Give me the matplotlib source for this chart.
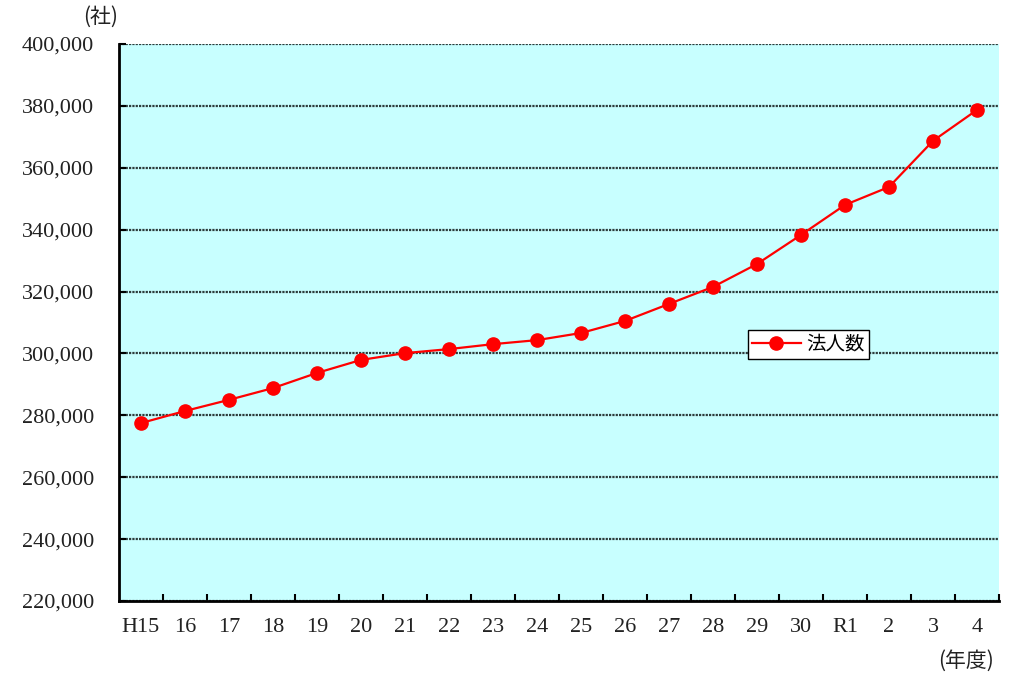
import matplotlib.pyplot as plt
from matplotlib.ticker import FuncFormatter, FixedLocator

# データ
nendo = ["H15", "16", "17", "18", "19", "20", "21", "22", "23", "24",
         "25", "26", "27", "28", "29", "30", "R1", "2", "3", "4"]
houjin_su = [277500, 281400, 285000, 288800, 293700, 297900, 300100, 301400,
             303000, 304300, 306600, 310500, 316000, 321500, 328900, 338300,
             348000, 353800, 368700, 378700]

serif = ["Liberation Serif", "Noto Sans CJK JP"]
cjk = ["Noto Sans CJK JP", "DejaVu Sans"]

fig = plt.figure(figsize=(10.24, 6.81), dpi=100)
ax = fig.add_axes([0.1162, 0.1175, 0.8594, 0.8179])
ax.set_facecolor("#c8ffff")

x = list(range(len(nendo)))
ax.plot(x, houjin_su, color="#ff0000", lw=1.6, marker="o", ms=9.5,
        markeredgecolor="#ff0000", label="法人数", zorder=3)

ax.set_xlim(-0.5, len(nendo) - 0.5)
ax.set_ylim(220000, 400000)
ax.set_yticks(range(220000, 400001, 20000))
ax.yaxis.set_major_formatter(FuncFormatter(lambda v, p: f"{int(v):,}"))
ax.grid(axis="y", color="#2e3c3c", ls=(0, (1, 0.5)), lw=1.6, zorder=1)

ax.set_xticks(x)
ax.set_xticklabels(nendo)
ax.xaxis.set_minor_locator(FixedLocator([i + 0.5 for i in x]))
ax.tick_params(axis="x", which="major", length=0, pad=12)
ax.tick_params(axis="x", which="minor", direction="in", length=5, width=1.5)
ax.tick_params(axis="y", direction="in", length=5, width=1.5, pad=18)

for lbl in ax.get_xticklabels() + ax.get_yticklabels():
    lbl.set_fontfamily(serif)
    lbl.set_fontsize(16)
    lbl.set_color("#222222")

for s in ["top", "right"]:
    ax.spines[s].set_visible(False)
for s in ["left", "bottom"]:
    ax.spines[s].set_linewidth(2)

leg = ax.legend(loc="upper left", bbox_to_anchor=(0.715, 0.487),
                prop={"family": cjk, "size": 14}, frameon=True, fancybox=False,
                edgecolor="black", framealpha=1, handlelength=2.5,
                borderpad=0.2, handletextpad=0.3, borderaxespad=0)
leg.get_frame().set_linewidth(1.0)

fig.text(0.098, 0.975, "(社)", family=cjk, fontsize=15, ha="center", va="center", color="#222222")
fig.text(0.943, 0.03, "(年度)", family=cjk, fontsize=15, ha="center", va="center", color="#222222")

plt.savefig("out.png", dpi=100)
